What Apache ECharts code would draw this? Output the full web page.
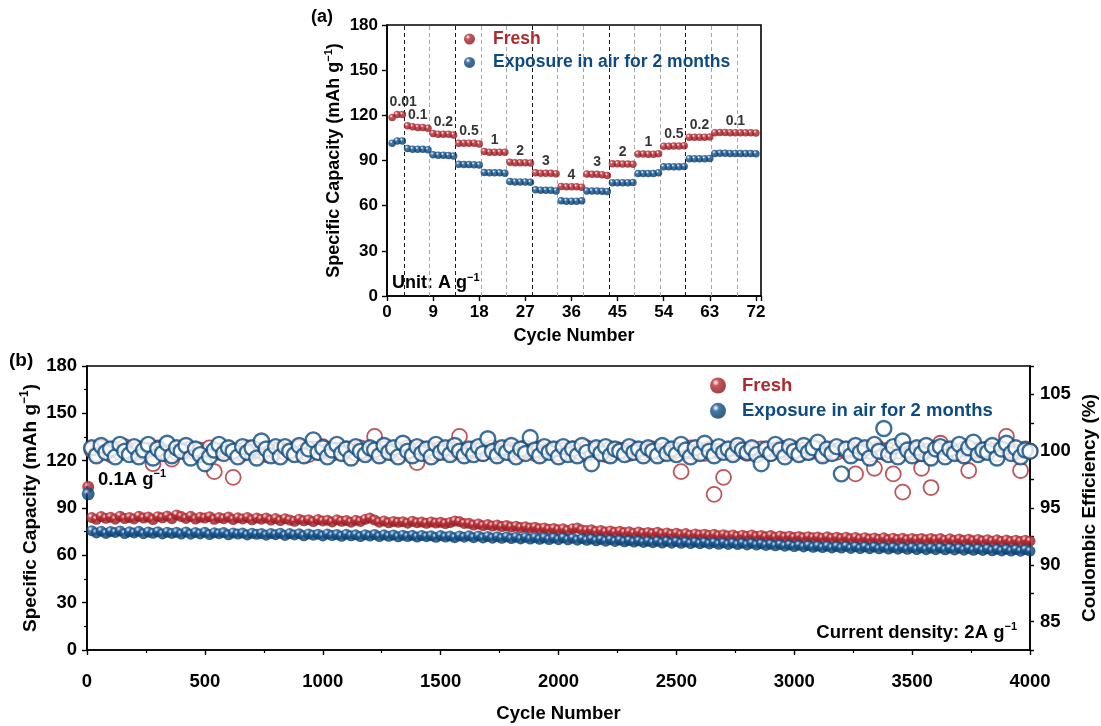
<!DOCTYPE html>
<html><head><meta charset="utf-8">
<script src="https://cdn.jsdelivr.net/npm/echarts@6/dist/echarts.min.js"></script>
<style>html,body{margin:0;padding:0;background:#fff}#c{width:1101px;height:726px}</style>
</head><body><div id="c"></div>
<script>
// ---------- Panel (a): rate capability ----------
const rateLabels = ['0.01','0.1','0.2','0.5','1','2','3','4','3','2','1','0.5','0.2','0.1'];
const segLengths = [3,5,5,5,5,5,5,5,5,5,5,5,5,9];
const freshA = [118.5,120.5,120.5, 113,112.5,112,112,111.5, 108,107.5,107.5,107.5,107, 101.5,101.5,101.5,101.5,101,
  96,95.5,95.5,95.5,95.5, 88.8,88.5,88.5,88.5,88.3, 81.8,81.5,81.5,81.5,81.2, 72.8,72.5,72.5,72.5,72.3,
  81,80.8,80.8,80.6,80, 87.8,87.8,87.6,87.6,87.5, 94.3,94.3,94.2,94.2,94.5, 99.5,99.5,99.6,99.6,99.8,
  105.5,105.5,105.5,105.5,105.6, 108.5,108.6,108.6,108.5,108.5,108.4,108.4,108.4,108.3];
const exposedA = [101.5,103,103, 98,97.5,97.5,97.5,97.2, 93.8,93.5,93.5,93.3,93, 87.5,87.3,87.3,87.2,87,
  82,81.8,81.8,81.8,81.6, 76,75.8,75.8,75.8,75.5, 70.5,70.3,70.2,70.2,69.8, 63.2,63,63,63,63.2,
  69.8,69.7,69.7,69.6,69.4, 75.3,75.3,75.3,75.3,75.4, 81.3,81.3,81.3,81.3,81.8, 85.8,85.8,85.8,85.8,86,
  91.2,91.2,91.2,91.2,91.4, 94.7,94.8,94.8,94.7,94.7,94.6,94.6,94.6,94.5];
const guideLinesA = [3.3,8.3,13.3,18.3,23.3,28.3,33.3,38.3,43.3,48.3,53.3,58.3,63.3,68.3];
const guideDarkA  = [1,0,1,0,0,1,0,0,1,0,0,1,0,0];

// ---------- Panel (b): long cycling at 2 A/g (one value every 20 cycles) ----------
const cycleStepB = 20;
const initCycleB = 5;
const freshInitB = 103.5;
const exposedInitB = 99;
const freshCapB = [
83.9,82.8,84.6,83.5,84.2,82.9,84.8,83.3,84.0,83.1,84.7,83.6,84.3,82.7,84.5,83.8,84.9,83.2,85.6,84.6,
83.4,84.7,83.0,84.1,83.6,84.5,82.8,83.9,83.2,84.3,82.7,83.8,83.1,84.0,82.5,83.6,82.9,83.7,82.4,83.3,
82.0,83.2,82.4,81.6,82.9,81.9,82.6,81.4,82.7,81.8,82.3,81.2,82.5,81.6,82.1,81.0,82.2,81.5,82.8,83.6,
82.4,81.0,81.8,80.6,81.5,80.9,81.3,80.4,81.6,80.7,81.1,80.3,81.2,80.5,80.9,80.1,80.8,81.7,81.4,80.2,
80.3,79.2,79.9,78.8,79.5,78.6,79.2,78.2,78.9,77.9,78.5,77.6,78.1,77.3,77.8,76.9,77.4,76.5,77.0,76.2,
76.8,75.7,76.9,77.3,76.0,75.8,76.2,75.1,75.7,74.8,75.5,74.6,75.2,74.4,74.9,74.0,74.8,73.9,74.5,73.8,
74.6,73.5,74.2,73.3,74.0,73.0,73.8,72.8,73.6,72.9,73.4,72.6,73.3,72.4,73.1,72.3,72.9,72.0,72.8,72.1,
72.9,71.9,72.6,71.7,72.5,71.5,72.3,71.6,72.1,71.3,72.0,71.1,71.8,71.2,71.6,70.9,71.7,70.8,71.5,70.7,
71.5,70.5,71.3,70.4,71.2,70.3,71.0,70.2,71.1,70.0,70.9,70.1,70.8,69.9,70.7,70.0,70.6,69.8,70.7,69.9,
70.6,69.6,70.5,69.5,70.3,69.4,70.2,69.2,70.1,69.1,69.9,69.0,69.8,68.9,69.7,68.8,69.6,68.7,69.5,69.0];
const exposedCapB = [
75.6,74.2,75.3,73.9,75.1,74.5,75.5,73.8,74.9,74.2,75.2,73.7,74.8,74.0,75.0,73.6,74.7,73.9,74.6,73.5,
74.8,73.4,74.5,73.6,74.6,73.2,74.3,73.7,74.4,73.0,74.2,73.5,74.1,72.9,74.0,73.3,73.9,72.8,73.8,73.1,
74.0,72.6,73.8,72.9,73.7,72.4,73.6,72.8,73.4,72.3,73.5,72.5,73.2,72.1,73.3,72.4,73.0,71.9,73.1,72.2,
73.2,71.9,73.0,72.1,72.9,71.7,72.8,71.9,72.7,71.6,72.6,71.8,72.4,71.4,72.5,71.6,72.2,71.2,72.3,71.5,
72.4,71.2,72.3,71.0,72.0,70.9,71.8,70.8,71.7,70.6,71.5,70.4,71.4,70.3,71.2,70.2,71.1,70.0,71.0,69.9,
71.1,69.8,70.9,69.6,70.6,69.5,70.4,69.2,70.1,69.0,69.9,68.8,69.7,68.6,69.4,68.4,69.2,68.2,69.0,68.0,
69.0,67.8,68.9,67.7,68.7,67.6,68.6,67.5,68.4,67.4,68.3,67.2,68.2,67.0,68.0,66.9,67.9,66.8,67.8,66.6,
67.7,66.5,67.4,66.3,67.1,66.0,66.9,65.8,66.6,65.6,66.4,65.3,66.2,65.1,65.9,64.9,65.8,64.7,65.6,64.6,
65.7,64.4,65.5,64.3,65.4,64.2,65.3,64.1,65.2,64.0,65.0,63.9,64.9,63.8,64.9,63.7,64.8,63.6,64.7,63.6,
64.8,63.5,64.6,63.4,64.5,63.3,64.4,63.2,64.2,63.1,64.1,62.9,63.9,62.8,63.8,62.7,63.7,62.6,63.6,62.7];
const freshCEB = [
100.1,99.8,100.3,100.0,99.7,100.2,99.9,100.4,100.0,99.8,100.2,99.9,100.1,98.9,100.3,100.0,99.8,99.3,99.9,100.1,
100.0,100.2,99.9,100.1,99.8,100.3,98.2,99.9,100.1,100.2,97.7,100.0,99.8,100.3,99.9,100.1,100.0,99.7,100.2,99.9,
100.2,99.9,100.1,99.8,100.3,100.0,99.7,100.2,99.9,100.4,100.0,99.8,100.1,99.9,100.2,100.0,99.8,100.3,99.9,100.1,
101.3,99.9,100.2,100.0,99.8,100.1,99.9,100.3,100.0,99.0,100.2,99.9,100.1,99.8,100.2,100.0,99.9,100.1,101.3,100.0,
99.9,100.2,100.0,99.8,100.1,100.3,99.9,100.0,100.2,99.8,100.1,99.9,100.3,100.0,99.8,100.2,99.9,100.1,100.0,99.8,
100.1,99.9,100.2,100.0,99.8,100.3,99.9,100.1,100.0,99.7,100.2,99.9,100.1,100.0,99.8,100.2,100.0,99.9,100.1,100.2,
100.0,99.8,100.2,99.9,100.1,98.2,100.0,100.3,99.9,100.1,99.8,100.2,96.2,100.0,97.7,100.1,99.9,100.2,100.0,99.8,
100.1,99.9,100.2,100.0,99.8,100.1,100.3,99.9,100.0,100.2,99.8,100.1,99.9,100.0,100.2,99.8,100.1,100.0,99.9,100.2,
100.0,100.2,98.0,99.9,100.1,100.0,98.5,100.2,99.9,100.1,98.0,100.0,96.4,100.2,99.9,100.1,98.5,100.0,96.8,100.2,
100.7,99.9,100.1,100.0,99.8,100.2,98.3,100.0,100.1,99.9,100.2,100.0,99.8,100.1,101.3,100.0,99.9,98.3,100.2,100.0];
const exposedCEB = [
100.3,99.6,100.5,99.9,100.2,99.5,100.6,100.0,99.7,100.4,99.5,100.1,100.6,99.4,100.2,99.8,100.7,99.6,100.3,100.0,
100.5,99.4,100.2,99.7,98.9,99.5,100.1,100.6,99.8,100.3,100.0,99.5,100.4,99.9,100.3,99.4,100.9,100.2,99.6,100.4,
99.5,100.4,100.0,99.7,100.5,99.6,100.2,101.0,99.9,100.3,99.5,100.1,100.6,99.8,100.2,99.4,100.4,100.0,99.7,100.3,
100.1,99.6,100.5,99.9,100.3,99.5,100.7,100.0,99.6,100.4,99.8,100.2,99.5,100.6,99.9,100.3,99.7,100.5,100.0,99.6,
100.2,99.7,100.4,99.8,101.1,100.0,99.6,100.3,99.9,100.5,99.5,100.2,99.8,101.2,100.1,99.6,100.4,99.9,100.2,99.5,
100.4,99.7,100.2,99.6,100.5,99.9,98.9,100.3,99.8,100.4,99.6,100.2,100.0,99.7,100.4,99.9,100.2,99.6,100.3,100.0,
99.6,100.5,99.8,100.2,99.7,100.6,100.1,99.5,100.3,99.8,100.7,100.0,99.6,100.4,99.9,100.2,99.7,100.5,100.1,99.9,
100.3,99.7,98.9,100.2,99.8,100.6,100.1,99.5,100.4,100.0,99.7,100.5,99.9,100.3,100.8,99.6,100.2,99.8,100.4,98.0,
100.2,99.6,100.5,99.9,100.3,99.4,100.6,100.0,102.0,99.7,100.4,99.5,100.9,100.1,99.6,100.3,99.8,100.5,99.4,100.2,
100.4,99.5,100.2,99.8,100.6,99.6,100.3,100.8,99.7,100.1,99.9,100.5,99.4,100.2,100.7,99.8,100.3,99.5,100.1,100.0];

// ---------- styling ----------
const FONT = 'Arial, "Liberation Sans", Helvetica, sans-serif';
const RED = '#ad2a2f', BLUE = '#0d4b80';
function ball(hi, light, mid, dark) {
  return {type:'radial', x:0.36, y:0.32, r:0.72, colorStops:[
    {offset:0, color:'#ffffff'}, {offset:0.1, color:hi}, {offset:0.28, color:light},
    {offset:0.55, color:mid}, {offset:1, color:dark}]};
}
const redBall = ball('#f0bcbf', '#bb3038', '#a51f27', '#86151b');
const blueBall = ball('#b6cde6', '#1d5b95', '#0b477c', '#06345e');

// ---------- derived series data ----------
const cycleA = freshA.map((_, i) => i + 1);
const freshAData = freshA.map((v, i) => [cycleA[i], v]);
const exposedAData = exposedA.map((v, i) => [cycleA[i], v]);
let pos = 0;
const rateLabelData = segLengths.map((len, k) => {
  const seg = freshA.slice(pos, pos + len);
  const center = pos + 1 + (len - 1) / 2;
  pos += len;
  const mean = seg.reduce((a, b) => a + b, 0) / seg.length;
  return { value: [center, mean], label: k === 0 ? { offset: [6, -1] } : {} };
});
const cyclesB = freshCapB.map((_, i) => (i + 1) * cycleStepB);
const toPairs = arr => arr.map((v, i) => [cyclesB[i], v]);

const bold = (size, extra) => Object.assign({fontFamily: FONT, fontWeight: 'bold', fontSize: size, color: '#000'}, extra || {});
function capName(size) {
  return {
    n: bold(size, {lineHeight: size + 4}),
    s: bold(Math.round(size * 0.62), {lineHeight: Math.round(size * 0.62) + 2, verticalAlign: 'top'})
  };
}

const axisLine = {show: true, lineStyle: {color: '#000', width: 1.6}};
const axisTick = {show: true, length: 5, lineStyle: {color: '#000', width: 1.4}};

const chart = echarts.init(document.getElementById('c'), null, {renderer: 'canvas'});
chart.setOption({
  animation: false,
  backgroundColor: '#fff',
  grid: [
    {left: 387, top: 25, width: 374, height: 271, show: true, borderColor: '#000', borderWidth: 1.6, outerBoundsMode: 'none', containLabel: false},
    {left: 87, top: 366, width: 943, height: 284, show: true, borderColor: '#000', borderWidth: 1.6, outerBoundsMode: 'none', containLabel: false}
  ],
  xAxis: [
    {type: 'value', gridIndex: 0, min: 0, max: 73, interval: 9,
     name: 'Cycle Number', nameLocation: 'middle', nameGap: 31, nameMoveOverlap: false,
     nameTextStyle: bold(18),
     axisLine, axisTick, splitLine: {show: false},
     axisLabel: {margin: 8, ...bold(17), formatter: v => (v % 9 === 0 ? String(v) : '')}},
    {type: 'value', gridIndex: 1, min: 0, max: 4000, interval: 500,
     name: 'Cycle Number', nameLocation: 'middle', nameGap: 54, nameMoveOverlap: false,
     nameTextStyle: bold(18.5),
     axisLine, axisTick, splitLine: {show: false},
     minorTick: {show: true, splitNumber: 2, length: 3, lineStyle: {color: '#000', width: 1.2}},
     axisLabel: {margin: 22, ...bold(18.5), formatter: v => String(v)}}
  ],
  yAxis: [
    {type: 'value', gridIndex: 0, min: 0, max: 180, interval: 30,
     name: '{n|Specific Capacity (mAh g}{s|\u22121}{n|)}', nameLocation: 'middle', nameGap: 42, nameRotate: 90, nameMoveOverlap: false,
     nameTextStyle: {rich: capName(18)},
     axisLine, axisTick, splitLine: {show: false},
     axisLabel: {margin: 9, ...bold(17)}},
    {type: 'value', gridIndex: 1, min: 0, max: 180, interval: 30,
     name: '{n|Specific Capacity (mAh g}{s|\u22121}{n|)}', nameLocation: 'middle', nameGap: 45, nameRotate: 90, nameMoveOverlap: false,
     nameTextStyle: {rich: capName(19)},
     axisLine, axisTick, splitLine: {show: false},
     minorTick: {show: true, splitNumber: 2, length: 3, lineStyle: {color: '#000', width: 1.2}},
     axisLabel: {margin: 10, ...bold(18.5)}},
    {type: 'value', gridIndex: 1, position: 'right', min: 82.5, max: 107.5, interval: 2.5,
     name: 'Coulombic Efficiency (%)', nameLocation: 'middle', nameGap: 50, nameRotate: 90, nameMoveOverlap: false,
     nameTextStyle: bold(19),
     axisLine, axisTick: {show: true, length: 4, lineStyle: {color: '#000', width: 1.4}}, splitLine: {show: false},
     axisLabel: {margin: 10, ...bold(18.5), formatter: v => (Math.round(v * 10) % 50 === 0 ? String(Math.round(v)) : '')}}
  ],
  legend: [
    {orient: 'vertical', left: 464, top: 29, padding: 0, itemWidth: 37, itemHeight: 11, itemGap: 3.4,
     icon: 'circle', selectedMode: false,
     textStyle: bold(17.5, {lineHeight: 20}),
     data: [{name: 'Fresh', textStyle: {color: RED}}, {name: 'Exposure in air for 2 months', textStyle: {color: BLUE}}]},
    {orient: 'vertical', left: 710, top: 375, padding: 0, itemWidth: 38, itemHeight: 16, itemGap: 4.3,
     icon: 'circle', selectedMode: false,
     textStyle: bold(18.5, {lineHeight: 21}),
     data: [{name: 'Fresh', textStyle: {color: RED}}, {name: 'Exposure in air for 2 months', textStyle: {color: BLUE}}]}
  ],
  graphic: [
    {type: 'text', x: 311, y: 17, style: {text: '(a)', font: 'bold 18px ' + FONT, fill: '#000', verticalAlign: 'middle', align: 'left'}},
    {type: 'text', x: 9, y: 361, style: {text: '(b)', font: 'bold 19px ' + FONT, fill: '#000', verticalAlign: 'middle', align: 'left'}},
    {type: 'text', x: 392, y: 283, style: {text: '{n|Unit: A g}{s|\u22121}', rich: capName(18), verticalAlign: 'middle', align: 'left'}},
    {type: 'text', x: 98, y: 480, style: {text: '{n|0.1A g}{s|\u22121}', rich: capName(18.5), verticalAlign: 'middle', align: 'left'}},
    {type: 'text', x: 1017, y: 633, style: {text: '{n|Current density: 2A g}{s|\u22121}', rich: capName(18.5), verticalAlign: 'middle', align: 'right'}}
  ],
  series: [
    {name: 'Fresh', type: 'scatter', xAxisIndex: 0, yAxisIndex: 0, z: 10,
     symbol: 'circle', symbolSize: 7.5, itemStyle: {color: redBall}, data: freshAData,
     markLine: {silent: true, symbol: ['none', 'none'], label: {show: false}, z: 1,
       data: guideLinesA.map((x, i) => ({xAxis: x, lineStyle: {color: guideDarkA[i] ? '#1a1a1a' : '#a8a8a8', type: [4, 3], width: 1}}))}},
    {name: 'Exposure in air for 2 months', type: 'scatter', xAxisIndex: 0, yAxisIndex: 0, z: 10,
     symbol: 'circle', symbolSize: 7.5, itemStyle: {color: blueBall}, data: exposedAData},
    {name: 'rate', type: 'scatter', xAxisIndex: 0, yAxisIndex: 0, z: 11, symbolSize: 0, silent: true,
     itemStyle: {color: 'transparent'},
     label: {show: true, position: 'top', distance: 5, ...bold(14),
       formatter: p => rateLabels[p.dataIndex]},
     data: rateLabelData},
    {name: 'Fresh CE', type: 'scatter', xAxisIndex: 1, yAxisIndex: 2, z: 5,
     symbol: 'circle', symbolSize: 15, itemStyle: {color: '#fff', borderColor: RED, borderWidth: 1.8},
     data: toPairs(freshCEB)},
    {name: 'Exposure CE', type: 'scatter', xAxisIndex: 1, yAxisIndex: 2, z: 5,
     symbol: 'circle', symbolSize: 15, itemStyle: {color: '#fff', borderColor: BLUE, borderWidth: 2.4},
     data: toPairs(exposedCEB)},
    {name: 'Fresh capacity', type: 'scatter', xAxisIndex: 1, yAxisIndex: 1, z: 6,
     symbol: 'circle', symbolSize: 11, itemStyle: {color: redBall}, data: toPairs(freshCapB)},
    {name: 'Exposure capacity', type: 'scatter', xAxisIndex: 1, yAxisIndex: 1, z: 6,
     symbol: 'circle', symbolSize: 11, itemStyle: {color: blueBall}, data: toPairs(exposedCapB)},
    {name: 'Fresh 0.1', type: 'scatter', xAxisIndex: 1, yAxisIndex: 1, z: 7, clip: false,
     symbol: 'circle', symbolSize: 12, itemStyle: {color: redBall}, data: [[initCycleB, freshInitB]]},
    {name: 'Exposure 0.1', type: 'scatter', xAxisIndex: 1, yAxisIndex: 1, z: 7, clip: false,
     symbol: 'circle', symbolSize: 13, itemStyle: {color: blueBall}, data: [[initCycleB, exposedInitB]]}
  ]
});
</script></body></html>
